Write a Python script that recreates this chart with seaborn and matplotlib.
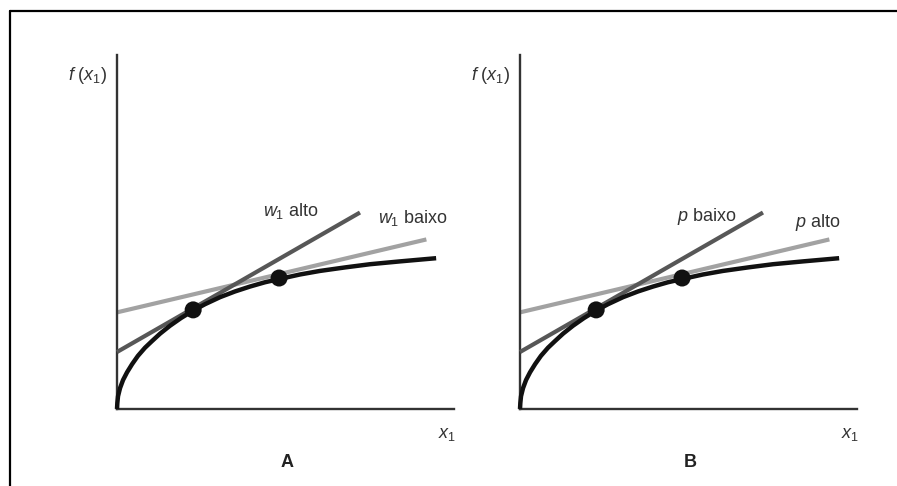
import matplotlib
matplotlib.use("Agg")
import matplotlib.pyplot as plt
from matplotlib.lines import Line2D
import seaborn as sns
import pandas as pd

# ---- data (arbitrary units 0..10) ----
curve_x = [0.00, 0.01, 0.03, 0.09, 0.18, 0.30, 0.45, 0.62, 0.83, 1.04, 1.28, 1.57, 1.90,
           2.26, 2.61, 3.06, 3.50, 3.95, 4.39, 4.81, 5.43, 6.02, 6.77, 7.51, 8.40, 9.47]
curve_y = [0.00, 0.17, 0.36, 0.59, 0.82, 1.04, 1.27, 1.50, 1.73, 1.92, 2.13, 2.35, 2.57,
           2.78, 2.96, 3.16, 3.32, 3.46, 3.58, 3.67, 3.80, 3.90, 4.00, 4.09, 4.17, 4.26]
steep_x = [0.0, 7.21]
steep_y = [1.61, 5.55]
flat_x = [0.0, 9.18]
flat_y = [2.73, 4.79]
dots_x = [2.26, 4.81]
dots_y = [2.80, 3.70]

panel_names = ["A", "B"]
steep_labels = ["$w_1$ alto", "$p$ baixo"]
flat_labels = ["$w_1$ baixo", "$p$ alto"]
y_label = "$f\\ (x_1)$"
x_label = "$x_1$"

sns.set_theme(style="white")
plt.rcParams["font.family"] = ["Liberation Sans", "DejaVu Sans"]
plt.rcParams["mathtext.fontset"] = "custom"
plt.rcParams["mathtext.rm"] = "Liberation Sans"
plt.rcParams["mathtext.it"] = "Liberation Sans:italic"
plt.rcParams["mathtext.bf"] = "Liberation Sans:bold"

W, H = 897, 486
fig = plt.figure(figsize=(W / 100, H / 100), dpi=100)
fig.patch.set_facecolor("white")

def fx(px):
    return px / W

def fy(py):
    return 1 - py / H

# outer frame (top and left edges visible)
fig.add_artist(Line2D([fx(10), fx(900)], [fy(11), fy(11)], color="black", lw=1.6, transform=fig.transFigure))
fig.add_artist(Line2D([fx(10), fx(10)], [fy(11), fy(490)], color="black", lw=1.6, transform=fig.transFigure))

curve_df = pd.DataFrame({"x": curve_x, "y": curve_y})
steep_df = pd.DataFrame({"x": steep_x, "y": steep_y})
flat_df = pd.DataFrame({"x": flat_x, "y": flat_y})
dots_df = pd.DataFrame({"x": dots_x, "y": dots_y})

FS = 13
offsets = [0, 403]
for i, off in enumerate(offsets):
    left, right, top, bottom = 117 + off, 454 + off, 55, 409
    ax = fig.add_axes([fx(left), fy(bottom), (right - left) / W, (bottom - top) / H])
    ax.set_xlim(0, 10)
    ax.set_ylim(0, 10)
    ax.set_facecolor("none")
    for s in ["top", "right"]:
        ax.spines[s].set_visible(False)
    for s in ["left", "bottom"]:
        ax.spines[s].set_color("#333333")
        ax.spines[s].set_linewidth(1.7)
    ax.set_xticks([])
    ax.set_yticks([])

    sns.lineplot(data=flat_df, x="x", y="y", ax=ax, sort=False, color="#a2a2a2",
                 lw=3.0, solid_capstyle="butt", clip_on=False, zorder=2)
    sns.lineplot(data=steep_df, x="x", y="y", ax=ax, sort=False, color="#575757",
                 lw=3.0, solid_capstyle="butt", clip_on=False, zorder=3)
    sns.lineplot(data=curve_df, x="x", y="y", ax=ax, sort=False, color="#111111",
                 lw=3.2, solid_joinstyle="round", solid_capstyle="butt", clip_on=False, zorder=4)
    sns.scatterplot(data=dots_df, x="x", y="y", ax=ax, color="#111111", s=150,
                    edgecolor="none", clip_on=False, zorder=5)
    ax.set_xlabel("")
    ax.set_ylabel("")

    fig.text(fx(68 + off), fy(75), y_label, fontsize=FS, color="#333333", va="center", ha="left")
    fig.text(fx(438 + off), fy(434), x_label, fontsize=FS, color="#333333", va="center", ha="left")
    fig.text(fx(287 + off), fy(462), panel_names[i], fontsize=FS, fontweight="bold",
             color="#222222", va="center", ha="center")

# line labels
fig.text(fx(263), fy(216), steep_labels[0], fontsize=FS, color="#333333", va="baseline", ha="left")
fig.text(fx(378), fy(223), flat_labels[0], fontsize=FS, color="#333333", va="baseline", ha="left")
fig.text(fx(677), fy(221), steep_labels[1], fontsize=FS, color="#333333", va="baseline", ha="left")
fig.text(fx(795), fy(227), flat_labels[1], fontsize=FS, color="#333333", va="baseline", ha="left")

fig.savefig("out.png", dpi=100)
